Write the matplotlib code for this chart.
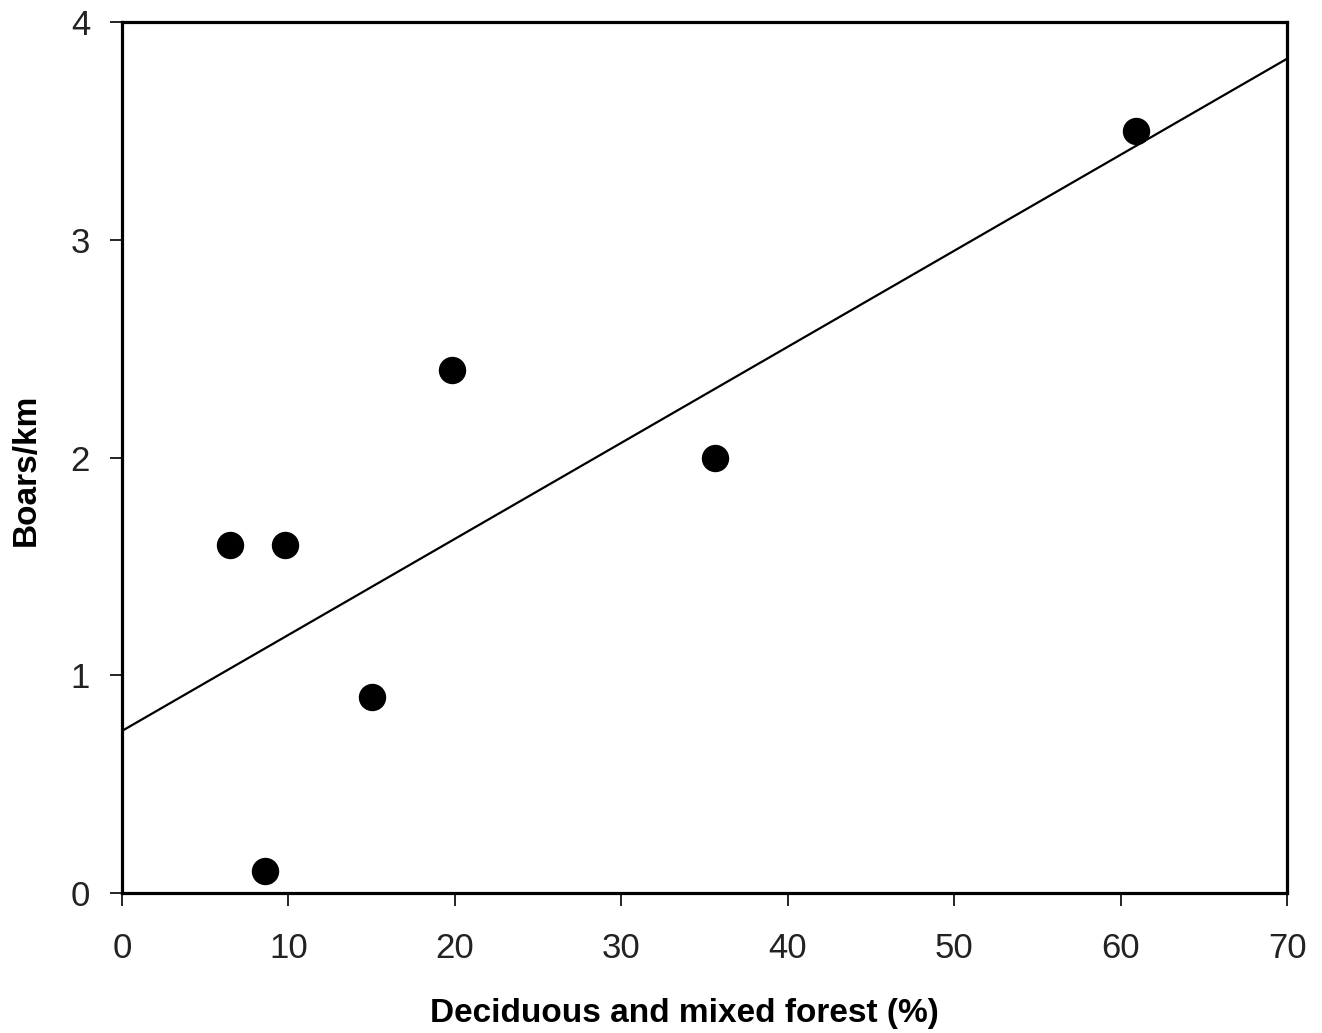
import numpy as np
import matplotlib
matplotlib.use("Agg")
import matplotlib.pyplot as plt

plt.rcParams['font.family'] = ['Liberation Sans', 'DejaVu Sans']

# data
forest_pct = [6.5, 9.8, 8.6, 15.0, 19.8, 35.6, 60.9]
boars_km = [1.6, 1.6, 0.1, 0.9, 2.4, 2.0, 3.5]
x_ticks = [0, 10, 20, 30, 40, 50, 60, 70]
y_ticks = [0, 1, 2, 3, 4]

fig = plt.figure(figsize=(13.22, 10.33), dpi=100)
ax = fig.add_axes([0.0923, 0.1355, 0.8813, 0.8432])

ax.scatter(forest_pct, boars_km, s=350, color='black', zorder=3)

# linear trend line
slope, icpt = np.polyfit(forest_pct, boars_km, 1)
xl = np.array([0, 70])
ax.plot(xl, icpt + slope * xl, color='black', lw=1.6)

ax.set_xlim(0, 70)
ax.set_ylim(0, 4)
ax.set_xticks(x_ticks)
ax.set_yticks(y_ticks)
ax.tick_params(direction='out', length=9, width=1.2, labelsize=25,
               labelcolor='#222222', pad=14)
ax.tick_params(axis='x', pad=19)
for sp in ax.spines.values():
    sp.set_linewidth(2.3)

ax.set_xlabel('Deciduous and mixed forest (%)', fontsize=24, fontweight='bold')
ax.set_ylabel('Boars/km', fontsize=24, fontweight='bold')
ax.xaxis.set_label_coords(0.483, -0.121)
ax.yaxis.set_label_coords(-0.069, 0.486)

fig.savefig('out.png', dpi=100)
